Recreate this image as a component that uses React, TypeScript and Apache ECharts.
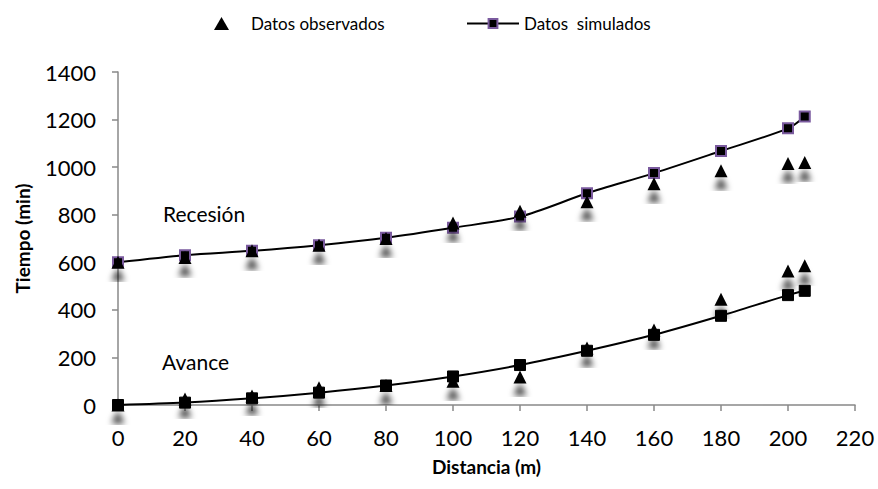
import React, { useEffect, useRef } from "react";
import * as echarts from "echarts";

const distances = [0, 20, 40, 60, 80, 100, 120, 140, 160, 180, 200, 205];
const recesionObs = [600, 620, 648, 672, 700, 765, 815, 855, 930, 985, 1015, 1020];
const recesionSim = [600, 630, 648, 672, 703, 745, 792, 890, 975, 1068, 1163, 1213];
const avanceObs = [0, 25, 38, 72, 82, 100, 118, 240, 315, 445, 563, 585];
const avanceSim = [0, 10, 28, 52, 82, 120, 168, 228, 295, 375, 462, 480];

const pair = (ys: number[]) => distances.map((x, i) => [x, ys[i]]);

const FONT = "Lato, 'Open Sans', sans-serif";

export default function App() {
  const ref = useRef<HTMLDivElement>(null);
  useEffect(() => {
    document.body.style.margin = "0";
    const chart = echarts.init(ref.current!, null, { renderer: "svg" });
    const triStyle = {
      color: "#000",
      opacity: 1,
      shadowBlur: 6,
      shadowColor: "rgba(0,0,0,0.75)",
      shadowOffsetY: 12,
    };
    chart.setOption({
      animation: false,
      backgroundColor: "#fff",
      textStyle: { fontFamily: FONT },
      legend: [
        {
          top: 10,
          left: 209,
          itemWidth: 15,
          itemHeight: 13,
          textStyle: { fontSize: 17, color: "#000", fontFamily: FONT, padding: [0, 0, 0, 17] },
          data: [{ name: "Datos observados", icon: "triangle" }],
        },
        {
          top: 10,
          left: 461,
          itemWidth: 52,
          itemHeight: 11,
          textStyle: { fontSize: 17, color: "#000", fontFamily: FONT },
          data: [{ name: "Datos  simulados" }],
        },
      ],
      grid: { left: 118, right: 23, top: 72, bottom: 84 },
      xAxis: {
        type: "value",
        min: 0,
        max: 220,
        interval: 20,
        name: "Distancia (m)",
        nameLocation: "middle",
        nameGap: 52,
        nameTextStyle: { fontSize: 19, fontWeight: "bold", color: "#000", fontFamily: FONT },
        axisLine: { lineStyle: { color: "#888", width: 1.5 } },
        axisTick: { show: true, length: 6, lineStyle: { color: "#888", width: 1.5 } },
        axisLabel: { fontSize: 22, color: "#000", margin: 21, fontFamily: FONT },
        splitLine: { show: false },
      },
      yAxis: {
        type: "value",
        min: 0,
        max: 1400,
        interval: 200,
        name: "Tiempo (min)",
        nameLocation: "middle",
        nameGap: 86,
        nameRotate: 90,
        nameTextStyle: { fontSize: 19, fontWeight: "bold", color: "#000", fontFamily: FONT },
        axisLine: { show: true, lineStyle: { color: "#888", width: 1.5 } },
        axisTick: { show: true, length: 6, lineStyle: { color: "#888", width: 1.5 } },
        axisLabel: {
          fontSize: 22,
          color: "#000",
          margin: 22,
          fontFamily: FONT,
          formatter: (v: number) => String(v),
        },
        splitLine: { show: false },
      },
      series: [
        {
          name: "Datos  simulados",
          type: "line",
          smooth: 0.3,
          data: pair(recesionSim),
          symbol: "rect",
          symbolSize: 10,
          lineStyle: { color: "#000", width: 2 },
          itemStyle: { color: "#000", borderColor: "#7a5a9e", borderWidth: 2 },
          z: 2,
        },
        {
          name: "Datos  simulados",
          type: "line",
          smooth: 0.3,
          data: pair(avanceSim),
          symbol: "rect",
          symbolSize: 11,
          lineStyle: { color: "#000", width: 2 },
          itemStyle: { color: "#000", borderColor: "#000", borderWidth: 1 },
          z: 2,
        },
        {
          name: "Datos observados",
          type: "scatter",
          data: pair(recesionObs),
          symbol: "triangle",
          symbolSize: 13,
          itemStyle: triStyle,
          z: 3,
        },
        {
          name: "Datos observados",
          type: "scatter",
          data: pair(avanceObs),
          symbol: "triangle",
          symbolSize: 13,
          itemStyle: triStyle,
          z: 3,
        },
      ],
      graphic: [
        {
          type: "text",
          left: 163,
          top: 203,
          style: { text: "Recesión", fontSize: 21, fill: "#000", fontFamily: FONT },
        },
        {
          type: "text",
          left: 162,
          top: 351,
          style: { text: "Avance", fontSize: 21, fill: "#000", fontFamily: FONT },
        },
      ],
    });
    return () => chart.dispose();
  }, []);
  return <div ref={ref} style={{ width: 878, height: 489 }} />;
}
